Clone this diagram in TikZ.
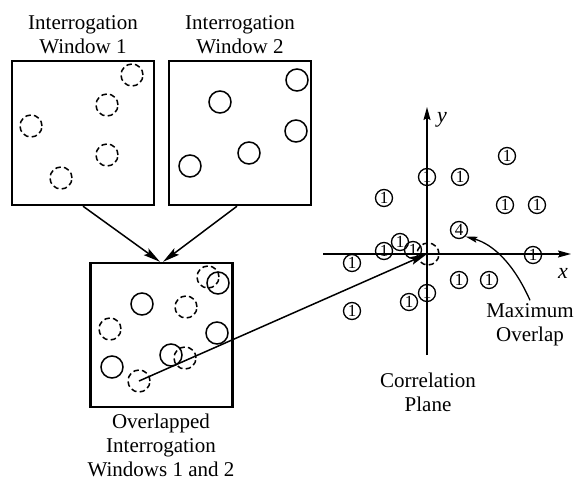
\documentclass[tikz,border=0pt]{standalone}
\usepackage{fontspec}
\setmainfont{Liberation Serif}
\usetikzlibrary{arrows.meta}
\begin{document}
\begin{tikzpicture}[x=1pt,y=-1pt,
  win/.style={draw, line width=2.4pt, minimum width=142pt, minimum height=144pt, inner sep=0pt},
  solidp/.style={circle, draw, line width=1.5pt, minimum size=22pt, inner sep=0pt},
  dashp/.style={solidp, dash pattern=on 5.5pt off 3.2pt},
  corr/.style={circle, draw, line width=1.3pt, minimum size=17pt, inner sep=0pt,
    font=\fontsize{17}{17}\selectfont},
  lbl/.style={align=center, font=\fontsize{21}{24}\selectfont},
  bigarrow/.style={line width=1.5pt, -{Stealth[length=17pt, width=8pt, inset=3pt]}},
  axis/.style={line width=1.5pt, -{Stealth[length=13pt, width=7pt, inset=2pt]}}]
\useasboundingbox (0,0) rectangle (576,482);

% interrogation windows
\node[win] (w1) at (83,133) {};
\node[win] (w2) at (240,133) {};
\node[win] (w3) at (161.5,335) {};

\node[lbl] (t1) at (83,35) {Interrogation\\Window 1};
\node[lbl] (t2) at (240,35) {Interrogation\\Window 2};
\node[lbl] (t3) at (161,445) {Overlapped\\Interrogation\\Windows 1 and 2};

% particles in window 1 (dashed)
\node[dashp] (a1) at (132,75) {};
\node[dashp] (a2) at (107,105) {};
\node[dashp] (a3) at (31,126) {};
\node[dashp] (a4) at (107,155) {};
\node[dashp] (a5) at (61,178) {};

% particles in window 2 (solid)
\node[solidp] (b1) at (297,80) {};
\node[solidp] (b2) at (220,102) {};
\node[solidp] (b3) at (296,131) {};
\node[solidp] (b4) at (249,153) {};
\node[solidp] (b5) at (190,166) {};

% overlapped window
\node[dashp] (c1) at (208,277) {};
\node[solidp] (c2) at (218,283) {};
\node[solidp] (c3) at (142,304) {};
\node[dashp] (c4) at (186,307) {};
\node[dashp] (c5) at (110,329) {};
\node[solidp] (c6) at (217,333) {};
\node[solidp] (c7) at (171,355) {};
\node[dashp] (c8) at (185,358) {};
\node[solidp] (c9) at (112,367) {};
\node[dashp] (c10) at (139,381) {};

\draw[bigarrow] (w1.south) -- ([xshift=-1.5pt]w3.north);
\draw[bigarrow] ([xshift=-3pt]w2.south) -- ([xshift=1.5pt]w3.north);

% correlation plane
\coordinate (o) at (427,254);
\coordinate (xl) at (323,254);
\coordinate (xr) at (571,254);
\coordinate (yb) at (427,355);
\coordinate (yt) at (427,107);
\draw[axis] (xl) -- (xr);
\draw[axis] (yb) -- (yt);
\node[font=\fontsize{22}{24}\selectfont\itshape] (ly) at (442,120) {y};
\node[font=\fontsize{22}{24}\selectfont\itshape] (lx) at (563,273) {x};

\node[dashp] (d0) at (428,254) {};
\node[corr] (k1) at (507,156) {1};
\node[corr] (k2) at (427,177) {1};
\node[corr] (k3) at (460,177) {1};
\node[corr] (k4) at (384,198) {1};
\node[corr] (k5) at (505,205) {1};
\node[corr] (k6) at (537,205) {1};
\node[corr] (k7) at (459,230) {4};
\node[corr] (k8) at (384,251) {1};
\node[corr] (k9) at (400,242) {1};
\node[corr] (k10) at (413,250) {1};
\node[corr] (k11) at (352,263) {1};
\node[corr] (k12) at (533,255) {1};
\node[corr] (k13) at (459,280) {1};
\node[corr] (k14) at (489,280) {1};
\node[corr] (k15) at (427,293) {1};
\node[corr] (k16) at (409,302) {1};
\node[corr] (k17) at (352,311) {1};

\node[lbl] (t4) at (428,392) {Correlation\\Plane};
\node[lbl] (t5) at (530,325) {Maximum\\Overlap};

% displacement of the particle pattern
\draw[bigarrow] (c10.center) -- (o);

% pointer to the peak
\draw[line width=1.3pt, -{Stealth[length=12pt, width=6pt, inset=2pt]}]
  (t5.north) .. controls (513,262) and (492,244) .. (k7.south east);
\end{tikzpicture}
\end{document}
